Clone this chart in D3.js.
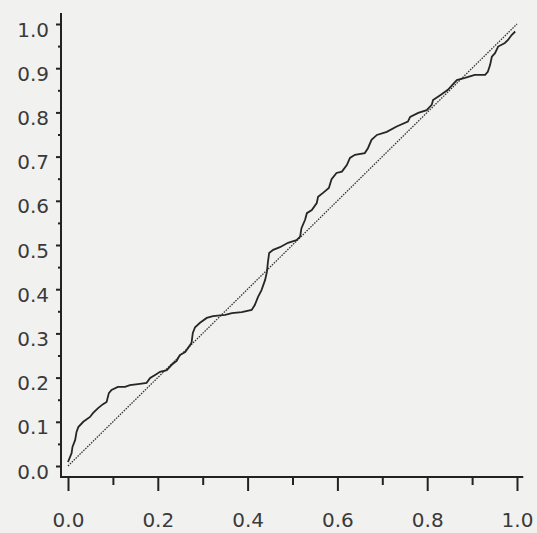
<!DOCTYPE html>
<html>
<head>
<meta charset="utf-8">
<script src="https://cdn.jsdelivr.net/npm/d3@7"></script>
<style>
  body { margin: 0; background: #f1f1f0; }
  svg { display: block; }
  .tick text { font-family: "DejaVu Sans", sans-serif; font-size: 20px; fill: #3a3a3a; }
</style>
</head>
<body>
<svg id="chart"></svg>
<script>
var width = 537;
var height = 533;

var curveX = [0.000, 0.008, 0.010, 0.016, 0.019, 0.023, 0.034, 0.049, 0.056, 0.067,
              0.078, 0.086, 0.091, 0.097, 0.111, 0.127, 0.138, 0.160, 0.175, 0.183,
              0.194, 0.205, 0.220, 0.231, 0.242, 0.249, 0.261, 0.275, 0.278, 0.283,
              0.294, 0.309, 0.323, 0.350, 0.365, 0.387, 0.409, 0.416, 0.423, 0.431,
              0.439, 0.443, 0.445, 0.448, 0.457, 0.472, 0.490, 0.509, 0.517, 0.520,
              0.528, 0.532, 0.543, 0.554, 0.557, 0.568, 0.581, 0.587, 0.598, 0.610,
              0.621, 0.628, 0.639, 0.661, 0.668, 0.676, 0.688, 0.710, 0.732, 0.757,
              0.762, 0.780, 0.799, 0.810, 0.813, 0.829, 0.846, 0.866, 0.884, 0.906,
              0.929, 0.935, 0.940, 0.944, 0.951, 0.958, 0.973, 0.980, 0.988, 0.996];
var curveY = [0.009, 0.029, 0.043, 0.059, 0.077, 0.088, 0.100, 0.111, 0.120, 0.131,
              0.140, 0.145, 0.165, 0.172, 0.179, 0.179, 0.183, 0.186, 0.188, 0.199,
              0.206, 0.213, 0.217, 0.229, 0.238, 0.251, 0.258, 0.278, 0.301, 0.314,
              0.324, 0.335, 0.339, 0.342, 0.346, 0.348, 0.353, 0.364, 0.382, 0.398,
              0.421, 0.439, 0.459, 0.482, 0.489, 0.495, 0.505, 0.511, 0.519, 0.538,
              0.557, 0.572, 0.579, 0.595, 0.609, 0.618, 0.629, 0.649, 0.663, 0.666,
              0.681, 0.697, 0.704, 0.708, 0.719, 0.738, 0.749, 0.756, 0.768, 0.779,
              0.790, 0.799, 0.805, 0.817, 0.828, 0.839, 0.851, 0.873, 0.878, 0.885,
              0.885, 0.892, 0.907, 0.926, 0.934, 0.949, 0.957, 0.964, 0.975, 0.983];
var diagonal = [0, 1];
var majorTicks = [0.0, 0.1, 0.2, 0.3, 0.4, 0.5, 0.6, 0.7, 0.8, 0.9, 1.0];
var minorTicks = [0.05, 0.15, 0.25, 0.35, 0.45, 0.55, 0.65, 0.75, 0.85, 0.95];
var xMajor = [0.0, 0.2, 0.4, 0.6, 0.8, 1.0];
var xMinor = [0.1, 0.3, 0.5, 0.7, 0.9];

var xscale = d3.scaleLinear().domain([0, 1]).range([68, 517]);
var yscale = d3.scaleLinear().domain([0, 1]).range([466, 24]);
var axisX = 61;   // where the y axis sits
var axisY = 477;  // where the x axis sits

var svg = d3.select("#chart")
    .attr("width", width)
    .attr("height", height);

// y axis: major ticks with labels, short minor ticks
var gy = svg.append("g")
    .attr("transform", "translate(" + axisX + ",0)")
    .call(d3.axisLeft(yscale).tickValues(majorTicks).tickSize(5).tickPadding(7)
            .tickFormat(d3.format(".1f")));
gy.selectAll("text").attr("dy", "0.6em");
svg.append("g")
    .attr("transform", "translate(" + axisX + ",0)")
    .call(d3.axisLeft(yscale).tickValues(minorTicks).tickSize(3).tickFormat(""));

// x axis: ticks hang down
svg.append("g")
    .attr("transform", "translate(0," + axisY + ")")
    .call(d3.axisBottom(xscale).tickValues(xMajor).tickSize(14).tickPadding(22)
            .tickFormat(d3.format(".1f")));
svg.append("g")
    .attr("transform", "translate(0," + axisY + ")")
    .call(d3.axisBottom(xscale).tickValues(xMinor).tickSize(8).tickFormat(""));

svg.selectAll(".domain").remove();
svg.selectAll(".tick line").attr("stroke", "#222").attr("stroke-width", 2);

// axis lines, run a little past the data range like the original
svg.append("line")
    .attr("x1", axisX).attr("x2", axisX)
    .attr("y1", yscale(1.025)).attr("y2", axisY + 1)
    .attr("stroke", "#222").attr("stroke-width", 2);
svg.append("line")
    .attr("x1", axisX).attr("x2", xscale(1.014))
    .attr("y1", axisY).attr("y2", axisY)
    .attr("stroke", "#222").attr("stroke-width", 2);

// reference diagonal (dotted)
svg.append("path")
    .datum(diagonal)
    .attr("d", d3.line().x(function(d){ return xscale(d); }).y(function(d){ return yscale(d); }))
    .attr("fill", "none")
    .attr("stroke", "#333")
    .attr("stroke-width", 1.3)
    .attr("stroke-dasharray", "1.5,1.2");

// the empirical curve
var pts = curveX.map(function(x, i){ return [x, curveY[i]]; });
svg.append("path")
    .datum(pts)
    .attr("d", d3.line().x(function(d){ return xscale(d[0]); }).y(function(d){ return yscale(d[1]); }))
    .attr("fill", "none")
    .attr("stroke", "#262626")
    .attr("stroke-width", 1.8)
    .attr("stroke-linejoin", "miter");
</script>
</body>
</html>
